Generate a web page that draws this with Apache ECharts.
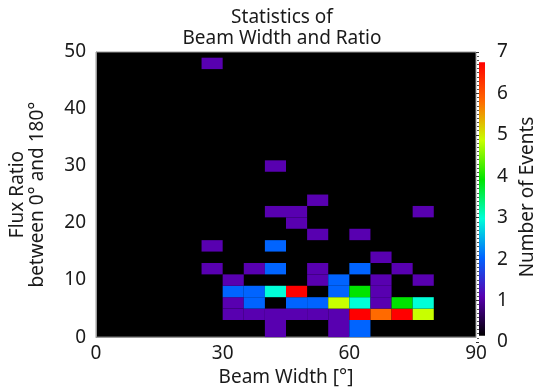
<!DOCTYPE html>
<html>
<head>
<meta charset="utf-8">
<script src="https://cdn.jsdelivr.net/npm/echarts@6/dist/echarts.min.js"></script>
<style>
html,body{margin:0;padding:0;background:#fff;}
#chart{width:541px;height:392px;}
</style>
</head>
<body>
<div id="chart"></div>
<script>
// Histogram bin edges along Beam Width (x)
const beamEdges = [25, 30, 35, 40, 45, 50, 55, 60, 65, 70, 75, 80];
// Flux ratio rows (y): [low, high] for each row that has events
const ratioRows = [
  [0, 3], [3, 5], [5, 7], [7, 9], [9, 11], [11, 13], [13, 15],
  [15, 17], [17, 19], [19, 21], [21, 23], [23, 25], [29, 31], [47, 49]
];
// Number of events per beam-width bin, one list per ratio row
const rowCounts = [
  [0, 0, 0, 1, 0, 0, 1, 2, 0, 0, 0],
  [0, 1, 1, 1, 1, 1, 1, 7, 6, 7, 5],
  [0, 1, 2, 0, 2, 2, 5, 3, 1, 4, 3],
  [0, 2, 2, 3, 7, 0, 2, 4, 1, 0, 0],
  [0, 1, 0, 0, 0, 1, 2, 0, 1, 0, 1],
  [1, 0, 1, 2, 0, 1, 0, 2, 0, 1, 0],
  [0, 0, 0, 0, 0, 0, 0, 0, 1, 0, 0],
  [1, 0, 0, 2, 0, 0, 0, 0, 0, 0, 0],
  [0, 0, 0, 0, 0, 1, 0, 1, 0, 0, 0],
  [0, 0, 0, 0, 1, 0, 0, 0, 0, 0, 0],
  [0, 0, 0, 1, 1, 0, 0, 0, 0, 0, 1],
  [0, 0, 0, 0, 0, 1, 0, 0, 0, 0, 0],
  [0, 0, 0, 1, 0, 0, 0, 0, 0, 0, 0],
  [1, 0, 0, 0, 0, 0, 0, 0, 0, 0, 0]
];
const xTicks = [0, 30, 60, 90];
const yTicks = [0, 10, 20, 30, 40, 50];
const colorbarTicks = [0, 1, 2, 3, 4, 5, 6, 7];
const colorStops = ['#000000', '#5800b0', '#0064ff', '#00ffd8', '#00e400', '#c8ff00', '#ff6a00', '#ff0000'];
const colorbarRange = [0.15, 6.75];

const cells = [];
ratioRows.forEach(function (r, ri) {
  rowCounts[ri].forEach(function (c, ci) {
    if (c > 0) cells.push([beamEdges[ci], beamEdges[ci + 1], r[0], r[1], c]);
  });
});

const FONT = 'Noto Sans';
const TXT = '#1a1a1a';
const chart = echarts.init(document.getElementById('chart'), null, {renderer: 'canvas'});

const gradStops = colorStops.map(function (c, i) {
  return {offset: i / (colorStops.length - 1), color: c};
});

chart.setOption({
  backgroundColor: '#fff',
  animation: false,
  title: {
    text: 'Statistics of\nBeam Width and Ratio',
    left: 277,
    textAlign: 'center',
    top: 2,
    textStyle: {fontFamily: FONT, fontSize: 19, fontWeight: 'normal', color: TXT, lineHeight: 21}
  },
  grid: [
    {left: 96, top: 52, width: 380, height: 290, show: true, backgroundColor: '#000', borderColor: '#999', borderWidth: 1},
    {left: 479, top: 52, width: 6, height: 290, show: false}
  ],
  xAxis: [
    {
      gridIndex: 0, type: 'value', min: 0, max: 90, interval: 30,
      name: 'Beam Width [°]', nameLocation: 'middle', nameGap: 27,
      nameTextStyle: {fontFamily: FONT, fontSize: 19, color: TXT},
      axisLine: {show: true, lineStyle: {color: '#999'}},
      axisTick: {show: false}, splitLine: {show: false},
      axisLabel: {fontFamily: FONT, fontSize: 19, color: TXT, margin: 7,
        formatter: function (v) { return xTicks.indexOf(v) >= 0 ? String(v) : ''; }}
    },
    {gridIndex: 1, type: 'value', min: 0, max: 1, show: false}
  ],
  yAxis: [
    {
      gridIndex: 0, type: 'value', min: 0, max: 50, interval: 10,
      name: 'Flux Ratio\nbetween 0° and 180°', nameLocation: 'middle', nameGap: 48,
      nameTextStyle: {fontFamily: FONT, fontSize: 19, color: TXT, lineHeight: 20},
      axisLine: {show: true, lineStyle: {color: '#999'}},
      axisTick: {show: false}, splitLine: {show: false},
      axisLabel: {fontFamily: FONT, fontSize: 19, color: TXT, margin: 10,
        formatter: function (v) { return yTicks.indexOf(v) >= 0 ? String(v) : ''; }}
    },
    {
      gridIndex: 1, type: 'value', min: 0, max: 7, interval: 1, position: 'right',
      name: 'Number of Events', nameLocation: 'middle', nameGap: 33, nameRotate: 90,
      nameTextStyle: {fontFamily: FONT, fontSize: 19, color: TXT},
      axisLine: {show: false},
      axisTick: {show: true, inside: true, length: 3, lineStyle: {color: '#333'}},
      minorTick: {show: true, splitNumber: 10, length: 2, lineStyle: {color: '#555'}},
      splitLine: {show: false},
      axisLabel: {fontFamily: FONT, fontSize: 19, color: TXT, margin: 12,
        formatter: function (v) { return colorbarTicks.indexOf(v) >= 0 ? String(v) : ''; }}
    }
  ],
  visualMap: {
    type: 'continuous', show: false, min: 0, max: 7, dimension: 4, seriesIndex: 0,
    inRange: {color: colorStops}
  },
  series: [
    {
      type: 'custom', xAxisIndex: 0, yAxisIndex: 0,
      encode: {x: [0, 1], y: [2, 3]},
      data: cells,
      renderItem: function (params, api) {
        const p1 = api.coord([api.value(0), api.value(3)]);
        const p2 = api.coord([api.value(1), api.value(2)]);
        return {
          type: 'rect',
          shape: {x: p1[0], y: p1[1], width: p2[0] - p1[0], height: p2[1] - p1[1]},
          style: {fill: api.visual('color')}
        };
      }
    },
    {
      type: 'custom', xAxisIndex: 1, yAxisIndex: 1,
      data: [[0, 1, colorbarRange[0], colorbarRange[1]]],
      encode: {x: [0, 1], y: [2, 3]},
      z: 1,
      renderItem: function (params, api) {
        const p1 = api.coord([api.value(0), api.value(3)]);
        const p2 = api.coord([api.value(1), api.value(2)]);
        return {
          type: 'rect',
          shape: {x: p1[0], y: p1[1], width: p2[0] - p1[0], height: p2[1] - p1[1]},
          style: {fill: new echarts.graphic.LinearGradient(0, 1, 0, 0, gradStops)}
        };
      }
    }
  ]
});
</script>
</body>
</html>
